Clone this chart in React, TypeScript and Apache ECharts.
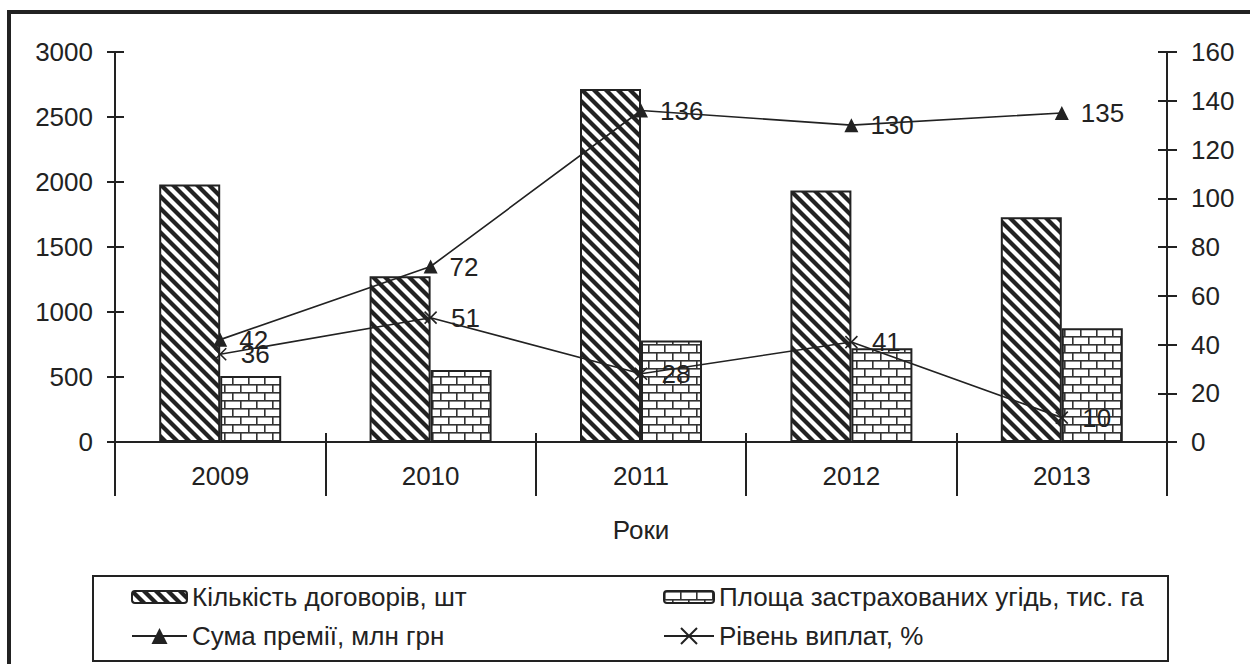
import React, { useEffect, useRef } from "react";
import * as echarts from "echarts";

const years = ["2009", "2010", "2011", "2012", "2013"];
const contracts = [1980, 1275, 2715, 1935, 1728];
const area = [508, 554, 780, 722, 875];
const premium = [42, 72, 136, 130, 135];
const payout = [36, 51, 28, 41, 10];
const leftTicks = { min: 0, max: 3000, interval: 500 };
const rightTicks = { min: 0, max: 160, interval: 20 };
const groupLabel = ["Роки"];

const NAME_CONTRACTS = "Кількість договорів, шт";
const NAME_AREA = "Площа застрахованих угідь, тис. га";
const NAME_PREMIUM = "Сума премії, млн грн";
const NAME_PAYOUT = "Рівень виплат, %";

const INK = "#222";
const FONT = "'Liberation Sans', Arial, sans-serif";
const FS = 26;

function hatchPattern() {
  const s = 12;
  const c = document.createElement("canvas");
  c.width = s;
  c.height = s;
  const g = c.getContext("2d")!;
  g.fillStyle = "#fff";
  g.fillRect(0, 0, s, s);
  g.strokeStyle = INK;
  g.lineWidth = 4.2;
  for (const k of [-s, 0, s]) {
    g.beginPath();
    g.moveTo(k - 2, -2);
    g.lineTo(k + s + 2, s + 2);
    g.stroke();
  }
  return { image: c, repeat: "repeat", imageWidth: s, imageHeight: s };
}

function brickPattern() {
  const w = 16;
  const h = 16;
  const c = document.createElement("canvas");
  c.width = w;
  c.height = h;
  const g = c.getContext("2d")!;
  g.fillStyle = "#fff";
  g.fillRect(0, 0, w, h);
  g.fillStyle = "#333";
  g.fillRect(0, 0, w, 1.6);
  g.fillRect(0, 8, w, 1.6);
  g.fillRect(0, 0, 1.6, 8);
  g.fillRect(8, 8, 1.6, 8);
  return { image: c, repeat: "repeat", imageWidth: w, imageHeight: h };
}

export default function App() {
  const ref = useRef<HTMLDivElement>(null);
  useEffect(() => {
    const chart = echarts.init(ref.current!, null, { renderer: "svg" });
    const gridRect = { left: 115, right: 83, top: 52, bottom: 222 };
    const plain = (v: number) => String(v);
    const axisLabel = { color: INK, fontSize: FS, fontFamily: FONT };
    const hiddenLabel = { show: false };
    const noLine = { show: false };
    const inkLine = { lineStyle: { color: INK, width: 2 } };
    const labelStyle = {
      show: true,
      position: "right",
      distance: 12,
      color: INK,
      fontSize: FS,
      fontFamily: FONT,
    };
    const legendText = { fontSize: FS, color: INK, fontFamily: FONT };
    const option: any = {
      animation: false,
      backgroundColor: "#fff",
      textStyle: { fontFamily: FONT, color: INK },
      grid: [{ ...gridRect }, { ...gridRect }, { ...gridRect }],
      xAxis: [
        {
          type: "category",
          gridIndex: 0,
          position: "bottom",
          data: years,
          axisLine: { show: true, ...inkLine },
          axisTick: { show: true, interval: 0, length: 54, ...inkLine },
          axisLabel: { ...axisLabel, margin: 21, interval: 0 },
        },
        {
          type: "category",
          gridIndex: 0,
          position: "top",
          data: years,
          axisLine: { show: true, ...inkLine },
          axisTick: { show: false },
          axisLabel: hiddenLabel,
        },
        {
          type: "category",
          gridIndex: 1,
          position: "bottom",
          offset: 106,
          data: groupLabel,
          axisLine: noLine,
          axisTick: { show: true, inside: true, length: 106, ...inkLine },
          axisLabel: { ...axisLabel, inside: true, margin: 5 },
        },
        {
          type: "category",
          gridIndex: 2,
          position: "bottom",
          data: years,
          axisLine: noLine,
          axisTick: { show: true, inside: true, interval: 0, length: 9, ...inkLine },
          axisLabel: hiddenLabel,
        },
      ],
      yAxis: [
        {
          type: "value",
          gridIndex: 0,
          position: "left",
          ...leftTicks,
          axisLine: { show: true, ...inkLine },
          axisTick: { show: true, length: 8, ...inkLine },
          axisLabel: { ...axisLabel, margin: 22, formatter: plain },
          splitLine: { show: false },
        },
        {
          type: "value",
          gridIndex: 0,
          position: "right",
          ...rightTicks,
          axisLine: { show: true, ...inkLine },
          axisTick: { show: true, length: 10, ...inkLine },
          axisLabel: { ...axisLabel, margin: 24, formatter: plain },
          splitLine: { show: false },
        },
        {
          type: "value",
          gridIndex: 1,
          position: "left",
          ...leftTicks,
          axisLine: noLine,
          axisTick: { show: true, inside: true, length: 9, ...inkLine },
          axisLabel: hiddenLabel,
          splitLine: { show: false },
        },
        {
          type: "value",
          gridIndex: 1,
          position: "right",
          ...rightTicks,
          axisLine: noLine,
          axisTick: { show: true, inside: true, length: 9, ...inkLine },
          axisLabel: hiddenLabel,
          splitLine: { show: false },
        },
        {
          type: "value",
          gridIndex: 2,
          show: false,
          ...leftTicks,
        },
      ],
      legend: [
        {
          data: [NAME_CONTRACTS],
          left: 126,
          top: 579,
          itemWidth: 55,
          itemHeight: 12,
          textStyle: legendText,
        },
        {
          data: [NAME_PREMIUM],
          left: 126,
          top: 618,
          itemWidth: 55,
          itemHeight: 20,
          textStyle: legendText,
        },
        {
          data: [NAME_AREA],
          left: 658,
          top: 579,
          itemWidth: 50,
          itemHeight: 12,
          textStyle: legendText,
        },
        {
          data: [NAME_PAYOUT],
          left: 658,
          top: 618,
          itemWidth: 50,
          itemHeight: 20,
          textStyle: legendText,
        },
      ],
      graphic: [
        {
          type: "rect",
          silent: true,
          shape: { x: 9, y: 12, width: 1280, height: 700 },
          style: { fill: "none", stroke: INK, lineWidth: 4 },
        },
        {
          type: "rect",
          silent: true,
          shape: { x: 93, y: 576, width: 1075, height: 85 },
          style: { fill: "none", stroke: INK, lineWidth: 2 },
        },
      ],
      series: [
        {
          name: NAME_CONTRACTS,
          type: "bar",
          xAxisIndex: 0,
          yAxisIndex: 0,
          data: contracts,
          barWidth: 61,
          barGap: "0%",
          itemStyle: { color: hatchPattern(), borderColor: INK, borderWidth: 2 },
        },
        {
          name: NAME_AREA,
          type: "bar",
          xAxisIndex: 0,
          yAxisIndex: 0,
          data: area,
          barWidth: 61,
          barGap: "0%",
          itemStyle: { color: brickPattern(), borderColor: INK, borderWidth: 2 },
        },
        {
          name: NAME_PREMIUM,
          type: "line",
          xAxisIndex: 0,
          yAxisIndex: 1,
          data: premium,
          symbol: "triangle",
          symbolSize: 14,
          z: 5,
          itemStyle: { color: INK },
          lineStyle: { color: INK, width: 1.6 },
          label: labelStyle,
        },
        {
          name: NAME_PAYOUT,
          type: "line",
          xAxisIndex: 0,
          yAxisIndex: 1,
          data: payout,
          symbol: "path://M0,0L10,10M10,0L0,10",
          symbolSize: 12,
          z: 5,
          itemStyle: { color: "none", borderColor: INK, borderWidth: 1.6 },
          lineStyle: { color: INK, width: 1.6 },
          label: labelStyle,
        },
      ],
    };
    chart.setOption(option);
    return () => chart.dispose();
  }, []);
  return (
    <div
      ref={ref}
      style={{ position: "absolute", left: 0, top: 0, width: 1250, height: 664, background: "#fff" }}
    />
  );
}
